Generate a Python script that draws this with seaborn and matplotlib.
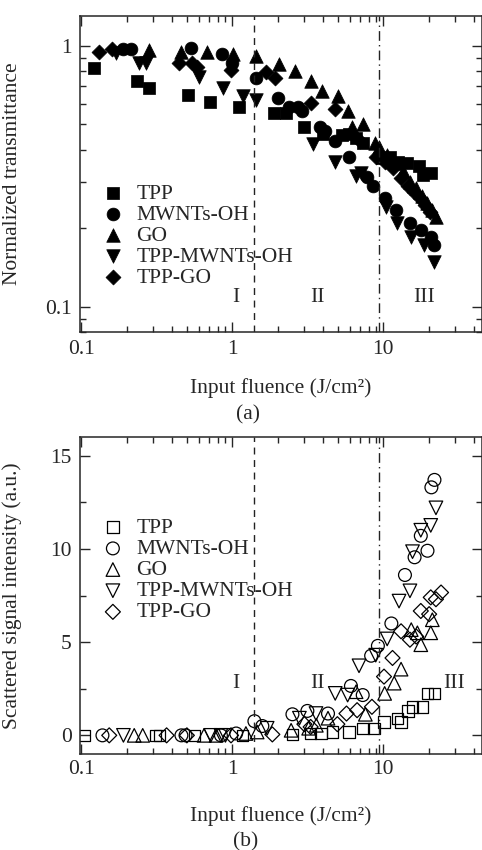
import numpy as np
import pandas as pd
import matplotlib
matplotlib.use("Agg")
import matplotlib.pyplot as plt
import seaborn as sns

# ---- (a) normalized transmittance ----
tpp_a_x = [0.122, 0.235, 0.28, 0.51, 0.71, 1.1, 1.9, 2.28, 3.0, 4.0, 5.3, 5.9, 6.6, 7.3,
           9.8, 11.0, 12.5, 14.4, 17.3, 18.2, 20.6]
tpp_a_y = [0.82, 0.735, 0.69, 0.65, 0.61, 0.58, 0.55, 0.55, 0.49, 0.46, 0.455, 0.46, 0.445, 0.425,
           0.37, 0.375, 0.36, 0.355, 0.345, 0.32, 0.325]

mw_a_x = [0.188, 0.213, 0.53, 0.85, 1.0, 1.43, 2.02, 2.37, 2.74, 2.9, 3.8, 4.1, 4.8, 5.9,
          7.8, 8.5, 10.2, 12.2, 14.9, 17.8, 20.8, 21.8]
mw_a_y = [0.97, 0.97, 0.98, 0.93, 0.86, 0.75, 0.63, 0.58, 0.58, 0.56, 0.49, 0.47, 0.43, 0.375,
          0.315, 0.29, 0.26, 0.235, 0.21, 0.197, 0.185, 0.173]

go_a_x = [0.28, 0.46, 0.68, 1.01, 1.43, 2.05, 2.58, 3.3, 3.95, 5.0, 5.8, 6.2, 7.3, 8.8,
          9.3, 10.5, 12.0, 13.5, 15.0, 16.5, 18.0, 19.5, 21.0, 22.4]
go_a_y = [0.965, 0.95, 0.95, 0.93, 0.915, 0.85, 0.80, 0.73, 0.67, 0.64, 0.56, 0.49, 0.50, 0.425,
          0.41, 0.38, 0.355, 0.33, 0.30, 0.285, 0.265, 0.25, 0.235, 0.22]

tm_a_x = [0.17, 0.24, 0.27, 0.6, 0.87, 1.18, 1.43, 3.4, 4.8, 6.6, 7.1, 10.4, 12.4, 15.3, 18.7, 21.8]
tm_a_y = [0.94, 0.86, 0.86, 0.76, 0.69, 0.64, 0.62, 0.42, 0.36, 0.317, 0.326, 0.242, 0.21, 0.185,
          0.173, 0.148]

tg_a_x = [0.131, 0.16, 0.446, 0.54, 0.58, 0.98, 1.68, 1.93, 3.33, 4.8, 7.0, 9.0, 10.2, 11.5,
          13.0, 14.5, 16.0, 17.5, 19.0, 20.5]
tg_a_y = [0.943, 0.97, 0.86, 0.86, 0.83, 0.81, 0.79, 0.75, 0.605, 0.57, 0.43, 0.375, 0.36, 0.34,
          0.31, 0.29, 0.275, 0.26, 0.245, 0.23]

# ---- (b) scattered signal intensity ----
tpp_b_x = [0.105, 0.31, 0.33, 0.56, 1.17, 2.5, 3.3, 3.86, 4.6, 5.9, 7.3, 8.7, 10.1, 12.4, 13.1,
           14.5, 15.6, 18.2, 19.6, 21.8]
tpp_b_y = [0, 0, 0, 0, 0, 0.05, 0.09, 0.09, 0.18, 0.18, 0.36, 0.36, 0.72, 0.9, 0.72,
           1.31, 1.53, 1.53, 2.25, 2.25]

mw_b_x = [0.138, 0.46, 0.49, 0.84, 1.06, 1.4, 1.58, 2.5, 3.14, 4.3, 6.1, 7.3, 8.3, 9.2, 11.3,
          13.9, 16.1, 17.7, 19.6, 20.8, 21.8]
mw_b_y = [0, 0, 0, 0, 0.1, 0.76, 0.5, 1.13, 1.31, 1.17, 2.65, 2.16, 4.27, 4.8, 6.0,
          8.6, 9.55, 10.7, 9.9, 13.3, 13.7]

go_b_x = [0.224, 0.255, 0.65, 0.78, 1.23, 1.46, 2.45, 3.2, 3.6, 4.3, 6.6, 7.6, 10.2, 11.8, 13.1,
          15.3, 16.8, 17.7, 20.6, 21.1]
go_b_y = [0, 0, 0, 0, 0.1, 0.18, 0.27, 0.38, 0.54, 0.92, 2.34, 1.13, 2.25, 2.8, 3.55,
          5.67, 5.5, 4.86, 5.5, 6.2]

tm_b_x = [0.19, 0.72, 0.84, 0.9, 1.7, 2.78, 3.58, 4.8, 5.8, 6.9, 8.9, 10.6, 12.7, 15.0, 15.6,
          17.7, 20.6, 22.3]
tm_b_y = [0, 0, 0, 0, 0.38, 0.92, 1.17, 2.25, 2.16, 3.73, 4.3, 5.17, 7.2, 7.75, 9.85,
          11.0, 11.26, 12.2]

tg_b_x = [0.153, 0.367, 0.5, 0.98, 1.84, 3.0, 3.3, 4.96, 5.7, 6.7, 8.4, 10.1, 11.5, 13.1, 15.0,
          16.5, 17.7, 20.1, 20.6, 22.3, 24.1]
tg_b_y = [0, 0, 0, 0, 0.05, 0.6, 0.45, 0.6, 1.17, 1.35, 1.53, 3.15, 4.15, 5.58, 5.13,
          5.3, 6.67, 6.5, 7.4, 7.3, 7.66]

names = ["TPP", "MWNTs-OH", "GO", "TPP-MWNTs-OH", "TPP-GO"]
markers = {"TPP": "s", "MWNTs-OH": "o", "GO": "^", "TPP-MWNTs-OH": "v", "TPP-GO": "D"}
sizes = {"TPP": 70, "MWNTs-OH": 85, "GO": 95, "TPP-MWNTs-OH": 95, "TPP-GO": 58}

dash_x = 1.4
dashdot_x = 9.3


def to_frame(series):
    rows = []
    for name, (xs, ys) in zip(names, series):
        rows += [{"material": name, "fluence": x, "value": y} for x, y in zip(xs, ys)]
    return pd.DataFrame(rows)


df_a = to_frame([(tpp_a_x, tpp_a_y), (mw_a_x, mw_a_y), (go_a_x, go_a_y),
                 (tm_a_x, tm_a_y), (tg_a_x, tg_a_y)])
df_b = to_frame([(tpp_b_x, tpp_b_y), (mw_b_x, mw_b_y), (go_b_x, go_b_y),
                 (tm_b_x, tm_b_y), (tg_b_x, tg_b_y)])

sns.set_theme(style="ticks")
plt.rcParams["font.family"] = ["Liberation Serif", "DejaVu Serif"]
plt.rcParams["axes.linewidth"] = 1.1
fs = 15.5

fig = plt.figure(figsize=(4.82, 8.5), dpi=100)
ax1 = fig.add_axes([80 / 482, 1 - 332 / 850, 402 / 482, 316 / 850])
ax2 = fig.add_axes([80 / 482, 1 - 754 / 850, 402 / 482, 317 / 850])

# panel (a): filled markers
for name in names:
    sub = df_a[df_a["material"] == name]
    sns.scatterplot(data=sub, x="fluence", y="value", ax=ax1, marker=markers[name],
                    s=sizes[name], color="black", edgecolor="black", linewidth=0.5,
                    label=name)

# panel (b): open markers
for name in names:
    sub = df_b[df_b["material"] == name]
    sns.scatterplot(data=sub, x="fluence", y="value", ax=ax2, marker=markers[name],
                    s=sizes[name], facecolor="none", edgecolor="black", linewidth=0.9,
                    label=name)

for ax in (ax1, ax2):
    ax.set_xscale("log")
    ax.set_xlim(0.098, 45)
    ax.axvline(dash_x, color="#222222", lw=1.0, ls=(0, (5, 4)))
    ax.axvline(dashdot_x, color="#222222", lw=1.0, ls=(0, (7, 3, 1, 3)))
    ax.set_xticks([0.1, 1, 10])
    ax.set_xticklabels(["0.1", "1", "10"])
    ax.tick_params(which="both", direction="in", top=True, right=True, labelsize=fs, width=1)
    ax.tick_params(which="major", length=7)
    ax.tick_params(which="minor", length=4)
    ax.set_xlabel("Input fluence (J/cm²)", fontsize=fs)
    leg = ax.legend(loc="upper left", frameon=False, fontsize=fs, handlelength=1.0,
                    handletextpad=0.6, labelspacing=0.05, borderpad=0, borderaxespad=0)

ax1.set_yscale("log")
ax1.set_ylim(0.08, 1.3)
ax1.set_yticks([0.1, 1])
ax1.set_yticklabels(["0.1", "1"])
ax1.set_ylabel("Normalized transmittance", fontsize=fs)
ax1.yaxis.set_label_coords(-0.145, 0.5)
ax1.xaxis.set_label_coords(0.5, -0.145)
ax1.tick_params(axis="x", pad=6)
ax1.tick_params(axis="y", pad=6)
ax1.get_legend().set_bbox_to_anchor((0.055, 0.47))
for lab, xv in [("I", 1.06), ("II", 3.65), ("III", 18.7)]:
    ax1.text(xv, 0.108, lab, ha="center", va="center", fontsize=fs)

ax2.set_ylim(-1, 16)
ax2.set_yticks([0, 5, 10, 15])
ax2.set_yticks(np.arange(0, 16, 2.5), minor=True)
ax2.set_ylabel("Scattered signal intensity (a.u.)", fontsize=fs)
ax2.yaxis.set_label_coords(-0.145, 0.5)
ax2.xaxis.set_label_coords(0.5, -0.165)
ax2.tick_params(axis="x", pad=4)
ax2.tick_params(axis="y", pad=6)
ax2.get_legend().set_bbox_to_anchor((0.055, 0.745))
for lab, xv in [("I", 1.05), ("II", 3.65), ("III", 29.5)]:
    ax2.text(xv, 2.8, lab, ha="center", va="center", fontsize=fs)

fig.text(248 / 482, 1 - 415 / 850, "(a)", ha="center", va="center", fontsize=fs)
fig.text(246 / 482, 1 - 842 / 850, "(b)", ha="center", va="center", fontsize=fs)

fig.savefig("out.png", dpi=100)
